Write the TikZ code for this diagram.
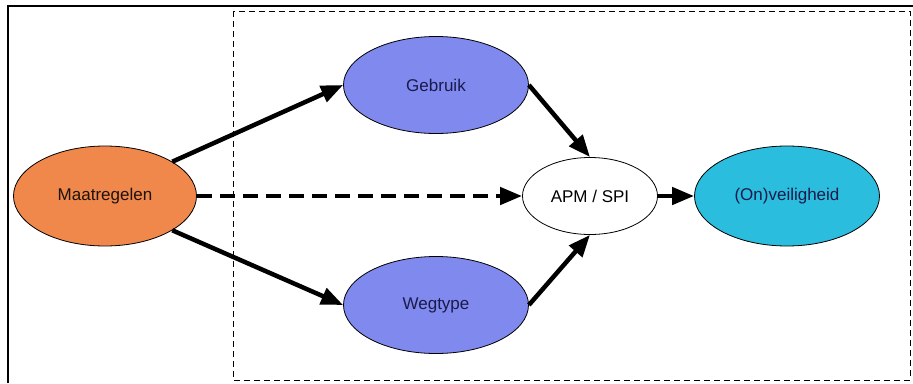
\documentclass[tikz,border=0pt]{standalone}
\usepackage{fontspec}
\setmainfont{Liberation Sans}
\usetikzlibrary{shapes.geometric,arrows.meta}
\definecolor{morange}{HTML}{F0884C}
\definecolor{mblue}{HTML}{8089EE}
\definecolor{mcyan}{HTML}{2ABDDD}
\definecolor{navytext}{HTML}{1A1A4A}
\begin{document}
\begin{tikzpicture}[x=1pt,y=-1pt,
  ell/.style={ellipse,draw=black,line width=0.8pt,inner sep=0pt,font=\fontsize{17}{20}\selectfont},
  conn/.style={line width=4.5pt,-{Triangle[length=22pt,width=17pt]}},
  frame/.style={line width=2pt},
  boxdash/.style={line width=0.8pt,dash pattern=on 6pt off 4pt}]
\useasboundingbox (0,0) rectangle (913,383);
\draw[frame] (8,383) -- (8,6) -- (913,6);
\draw[boxdash] (233,11) rectangle (910,380);
\node[ell,fill=morange,minimum width=183pt,minimum height=100pt,text=black!85!brown] (m) at (105,196) {Maatregelen};
\node[ell,fill=mblue,minimum width=185pt,minimum height=97pt,text=navytext] (g) at (436,85) {Gebruik};
\node[ell,fill=mblue,minimum width=185pt,minimum height=97pt,text=navytext] (w) at (436,305) {Wegtype};
\node[ell,fill=white,minimum width=135pt,minimum height=77pt,text=black] (a) at (590,196) {APM / SPI};
\node[ell,fill=mcyan,minimum width=185pt,minimum height=100pt,text=navytext] (o) at (787,196) {(On)veiligheid};
\draw[conn] (m.27) -- (g.west);
\draw[conn] (m.-27) -- (w.west);
\draw[conn,dash pattern=on 15pt off 8pt] (m.east) -- (a.west);
\draw[conn] (g.east) -- (a.north);
\draw[conn] (w.east) -- (a.south);
\draw[conn] (a.east) -- (o.west);
\end{tikzpicture}
\end{document}
